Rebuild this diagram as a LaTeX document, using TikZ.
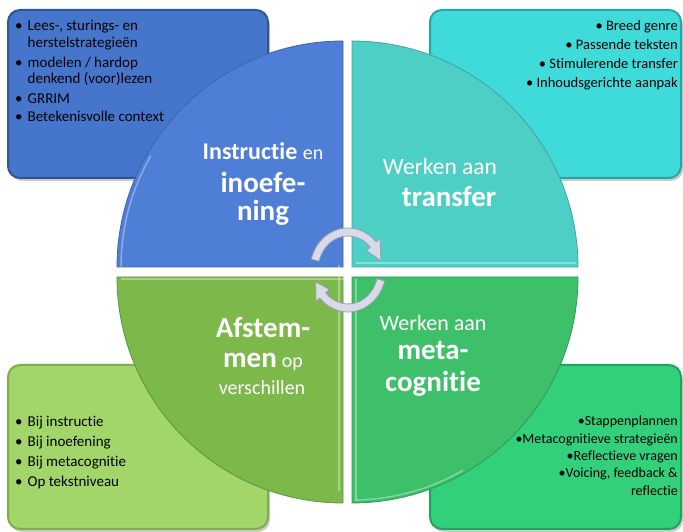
\documentclass[tikz,border=0pt]{standalone}
\usepackage{fontspec}
\setmainfont{Carlito}[Ligatures=NoCommon]
\usetikzlibrary{shadows,calc}
\definecolor{tlfill}{HTML}{4676CC}
\definecolor{tlline}{HTML}{2C5699}
\definecolor{trfill}{HTML}{3FDADA}
\definecolor{trline}{HTML}{28A6A6}
\definecolor{blfill}{HTML}{A2D66A}
\definecolor{blline}{HTML}{7EAE4A}
\definecolor{brfill}{HTML}{33D07C}
\definecolor{brline}{HTML}{22A35C}
\definecolor{qblue}{HTML}{4E7ED5}
\definecolor{qteal}{HTML}{4ECFC6}
\definecolor{qgreen}{HTML}{7CB84A}
\definecolor{qdgreen}{HTML}{3EBF6A}
\definecolor{arrfill}{HTML}{D8DAE8}
\definecolor{arrline}{HTML}{9A9DB4}
\newcommand{\fs}[2]{\fontsize{#1}{#2}\selectfont}
\begin{document}
\begin{tikzpicture}[x=1pt,y=1pt,
  cornerbox/.style={rounded corners=12pt, line width=2pt,
    drop shadow={shadow xshift=2pt,shadow yshift=-3pt,opacity=0.35,fill=black!60}},
  boxtext/.style={inner sep=0pt, text=black},
  qlabel/.style={inner sep=0pt, text=white, anchor=base},
  quad/.style={line width=0.8pt},
  hilite/.style={white, opacity=0.35, line width=1.5pt},
  arrowband/.style={fill=arrfill, draw=arrline, line width=0.8pt, line join=round}]
\useasboundingbox (0,0) rectangle (683,532);

% corner boxes
\draw[cornerbox, fill=tlfill, draw=tlline] (8,522) rectangle (268,354);
\draw[cornerbox, fill=trfill, draw=trline] (430,522) rectangle (681,354);
\draw[cornerbox, fill=blfill, draw=blline] (8,167) rectangle (268,3);
\draw[cornerbox, fill=brfill, draw=brline] (430,167) rectangle (681,3);

% box texts
\node[boxtext, anchor=base west] (tltext) at (15,501) {\fs{15}{16.5}%
  \begin{tabular}[t]{@{}l@{\hspace{5pt}}l@{}}
  \textbullet & Lees-, sturings- en\\
   & herstelstrategieën\\[3.5pt]
  \textbullet & modelen / hardop\\
   & denkend (voor)lezen\\[3.5pt]
  \textbullet & GRRIM\\[1.5pt]
  \textbullet & Betekenisvolle context
  \end{tabular}};
\node[boxtext, anchor=base east] (trtext) at (678,501) {\fs{14.5}{19}%
  \begin{tabular}[t]{@{}r@{}}
  \textbullet\ Breed genre\\
  \textbullet\ Passende teksten\\
  \textbullet\ Stimulerende transfer\\
  \textbullet\ Inhoudsgerichte aanpak
  \end{tabular}};
\node[boxtext, anchor=base west] (bltext) at (15,105) {\fs{15}{19.7}%
  \begin{tabular}[t]{@{}l@{\hspace{5pt}}l@{}}
  \textbullet & Bij instructie\\
  \textbullet & Bij inoefening\\
  \textbullet & Bij metacognitie\\
  \textbullet & Op tekstniveau
  \end{tabular}};
\node[boxtext, anchor=base east] (brtext) at (678,106) {\fs{14}{17.3}%
  \begin{tabular}[t]{@{}r@{}}
  \textbullet Stappenplannen\\
  \textbullet Metacognitieve strategieën\\
  \textbullet Reflectieve vragen\\
  \textbullet Voicing, feedback \&\\
  reflectie
  \end{tabular}};

% quadrants
\filldraw[quad, fill=qblue, draw=qblue!80!black] (343,265) -- (117,265) arc[start angle=180, end angle=90, radius=226] -- cycle;
\filldraw[quad, fill=qteal, draw=qteal!80!black] (352,265) -- (578,265) arc[start angle=0, end angle=90, radius=226] -- cycle;
\filldraw[quad, fill=qgreen, draw=qgreen!80!black] (343,255) -- (117,255) arc[start angle=180, end angle=270, radius=226] -- cycle;
\filldraw[quad, fill=qdgreen, draw=qdgreen!80!black] (352,255) -- (578,255) arc[start angle=0, end angle=-90, radius=226] -- cycle;
% bevel highlights
\draw[hilite] (339,267) -- (339,41) ;
\draw[hilite] (121,265) arc[start angle=180, end angle=150, radius=222];
\draw[hilite] (356,269) -- (576,269);
\draw[hilite] (347,253) -- (121,253);
\draw[hilite] (356,32) arc[start angle=-89, end angle=-60, radius=222];
\draw[hilite] (356,253) -- (356,31);

% quadrant labels
\node[qlabel] (b1) at (263,372) {\fs{24}{24}\textbf{Instructie}\ {\fs{20}{20}en}};
\node[qlabel] (b2) at (263,339) {\fs{29}{29}\bfseries inoefe-};
\node[qlabel] (b3) at (263,311) {\fs{29}{29}\bfseries ning};
\node[qlabel] (t1) at (440,357) {\fs{23.5}{24}Werken aan};
\node[qlabel] (t2) at (449,325) {\fs{29}{29}\bfseries transfer};
\node[qlabel] (g1) at (263,194) {\fs{29}{29}\bfseries Afstem-};
\node[qlabel] (g2) at (263,164) {\fs{22}{22}{\fs{29}{29}\bfseries men}\ {\fs{20}{20}op}};
\node[qlabel] (g3) at (262,137) {\fs{20}{20}verschillen};
\node[qlabel] (d1) at (433,201) {\fs{22}{22}Werken aan};
\node[qlabel] (d2) at (433,172) {\fs{29}{29}\bfseries meta-};
\node[qlabel] (d3) at (433,140) {\fs{29}{29}\bfseries cognitie};

% circular arrows
\coordinate (C) at (348,262);
\draw[arrowband]
  ($(C)+({38*cos(165)},{42*sin(165)})$) arc[start angle=165, end angle=42, x radius=38, y radius=42]
  -- ($(C)+({43*cos(42)},{47*sin(42)})$)
  -- ($(C)+({34*cos(14)},{38*sin(14)})$)
  -- ($(C)+({25*cos(42)},{29*sin(42)})$)
  -- ($(C)+({30*cos(42)},{34*sin(42)})$)
  arc[start angle=42, end angle=165, x radius=30, y radius=34] -- cycle;
\draw[arrowband]
  ($(C)+({38*cos(-15)},{42*sin(-15)})$) arc[start angle=-15, end angle=-138, x radius=38, y radius=42]
  -- ($(C)+({43*cos(-138)},{47*sin(-138)})$)
  -- ($(C)+({34*cos(-162)},{38*sin(-162)})$)
  -- ($(C)+({25*cos(-138)},{29*sin(-138)})$)
  -- ($(C)+({30*cos(-138)},{34*sin(-138)})$)
  arc[start angle=-138, end angle=-15, x radius=30, y radius=34] -- cycle;
\end{tikzpicture}
\end{document}
